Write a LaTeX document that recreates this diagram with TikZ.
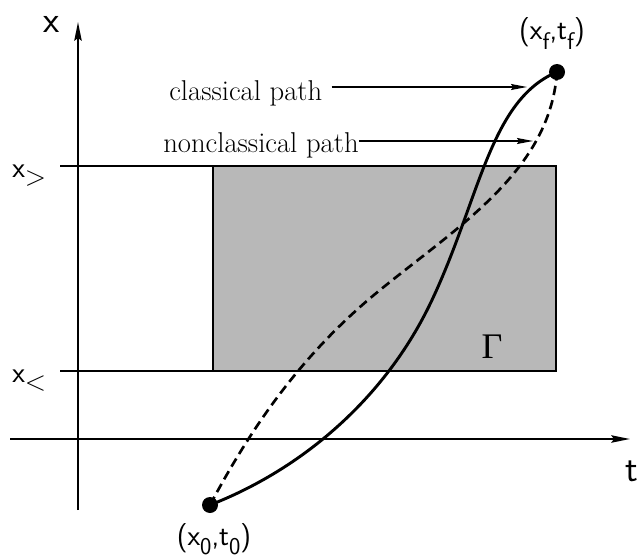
\documentclass[tikz,border=0pt]{standalone}
\usepackage{fontspec}
\usepackage{graphicx}
\newfontfamily\grkfont{Liberation Serif}
\usetikzlibrary{arrows.meta}
\newcommand\lowsub[1]{\raisebox{-0.33em}{\scalebox{0.82}{#1}}}
\newcommand\lowrel[1]{\raisebox{-0.3em}{\scalebox{0.95}{#1}}}
\begin{document}
\begin{tikzpicture}[x=0.75pt,y=-0.75pt,
  axis/.style={line width=1.6pt,-{Stealth[length=14pt,width=5.5pt,inset=2pt]}},
  level/.style={line width=1.3pt},
  region/.style={fill=black!28,draw=black,line width=1.3pt},
  cpath/.style={line width=2.2pt},
  qpath/.style={line width=2pt,dash pattern=on 7pt off 4pt},
  lbl/.style={font=\fontsize{21.5}{25}\selectfont,inner sep=0pt},
  ptr/.style={line width=1.1pt,-{Stealth[length=12pt,width=4.5pt,inset=1.5pt]}},
  dot/.style={circle,fill=black,inner sep=0pt,minimum size=12pt},
  axl/.style={font=\sffamily\fontsize{28}{30}\selectfont,inner sep=0pt},
  lev/.style={font=\sffamily\fontsize{22}{26}\selectfont,inner sep=0pt},
  ept/.style={font=\sffamily\fontsize{22}{26}\selectfont,inner sep=0pt},
]
\useasboundingbox (0,0) rectangle (639,560);

% shaded region
\fill[region] (213,166) rectangle (556,371);
\node[font=\grkfont\fontsize{27}{30}\selectfont,inner sep=0pt] (gam) at (492,347) {Γ};

% axes
\coordinate (vb) at (78,510);
\coordinate (vt) at (78,22);
\coordinate (hl) at (10,439);
\coordinate (hr) at (630,439);
\draw[axis] (vb) -- (vt);
\draw[axis] (hl) -- (hr);
\node[axl] (xl) at (52,24) {x};
\node[axl] (tl) at (632,471) {t};

% levels
\coordinate (gl) at (60,166);
\coordinate (gr) at (556,166);
\coordinate (ll) at (60,371);
\coordinate (lr) at (556,371);
\draw[level] (gl) -- (gr);
\draw[level] (ll) -- (lr);
\node[lev,anchor=base west] (xg) at (12,177) {x\lowrel{>}};
\node[lev,anchor=base west] (xs) at (12,382) {x\lowrel{<}};

% end points
\node[dot] (p0) at (210,505) {};
\node[dot] (pf) at (557,72) {};
\node[ept,anchor=base] (p0l) at (214,545) {(x\lowsub{0},t\lowsub{0})};
\node[ept,anchor=base] (pfl) at (552,40) {(x\lowsub{f},t\lowsub{f})};

% paths
\draw[cpath] (p0.center) .. controls (300,470) and (385,400) .. (432,300)
  .. controls (480,198) and (490,100) .. (pf.center);
\draw[qpath] (p0.center) .. controls (250,430) and (300,355) .. (380,290)
  .. controls (460,225) and (550,170) .. (pf.center);

% labels with pointers
\node[lbl,anchor=base west,outer xsep=7pt] (cl) at (160,100) {classical path};
\node[lbl,anchor=base west] (ncl) at (163,152) {nonclassical path};
\coordinate (clt) at (527,87);
\coordinate (nct) at (533,141);
\draw[ptr] (cl.east |- clt) -- (clt);
\draw[ptr] (ncl.east |- nct) -- (nct);
\end{tikzpicture}
\end{document}
